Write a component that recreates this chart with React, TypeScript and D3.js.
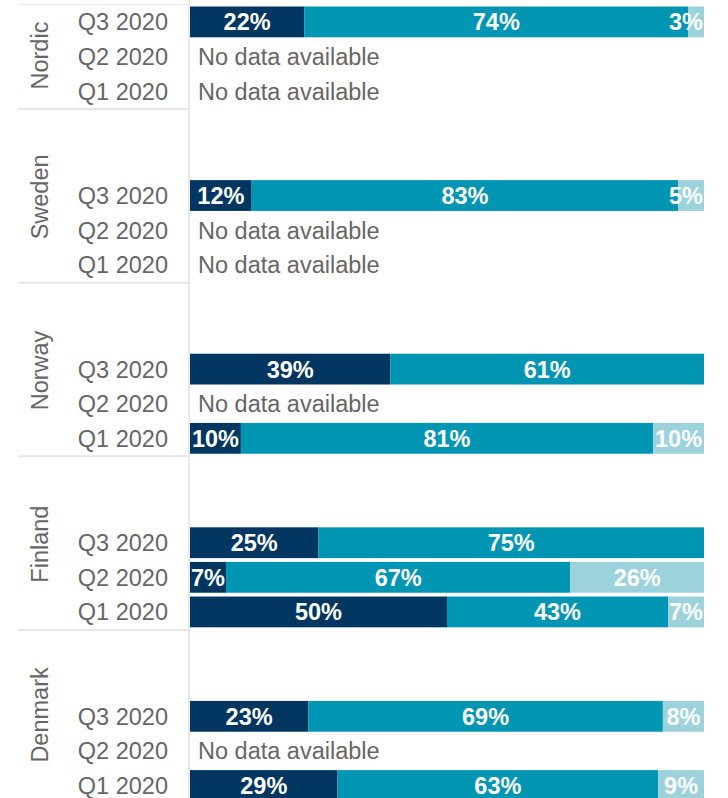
import React from 'react';
import * as d3 from 'd3';

// regions and quarters as shown (top to bottom)
const countries = ['Nordic', 'Sweden', 'Norway', 'Finland', 'Denmark'];
const quarters = ['Q3 2020', 'Q2 2020', 'Q1 2020'];

// share per segment, null = no data available
const darkShare: (number | null)[][] = [
  [22, null, null],
  [12, null, null],
  [39, null, 10],
  [25, 7, 50],
  [23, null, 29],
];
const midShare: (number | null)[][] = [
  [74, null, null],
  [83, null, null],
  [61, null, 81],
  [75, 67, 43],
  [69, null, 63],
];
const lightShare: (number | null)[][] = [
  [3, null, null],
  [5, null, null],
  [0, null, 10],
  [0, 26, 7],
  [8, null, 9],
];

const keys = ['dark', 'mid', 'light'];
const colors: Record<string, string> = { dark: '#00365f', mid: '#0095b3', light: '#9bd2dc' };

const W = 728;
const H = 798;
const FONT = '"Liberation Sans", Arial, sans-serif';
const FS = 23.5;

type Row = { country: string; quarter: string; dark: number; mid: number; light: number; empty: boolean };

const App: React.FC = () => {
  const rows: Row[] = [];
  countries.forEach((c, i) => {
    quarters.forEach((q, j) => {
      const d = darkShare[i][j];
      rows.push({
        country: c,
        quarter: q,
        dark: d ?? 0,
        mid: midShare[i][j] ?? 0,
        light: lightShare[i][j] ?? 0,
        empty: d === null,
      });
    });
  });

  // each group holds five slots, the quarters sit in the lower three
  const group = d3.scaleBand<string>().domain(countries).range([-64.5, 803.5]);
  const gh = group.bandwidth();
  const slot = d3
    .scaleBand<string>()
    .domain(quarters)
    .range([(gh * 2) / 5, gh])
    .paddingInner(0.11)
    .paddingOuter(0.06);

  const x = d3.scaleLinear().domain([0, 1]).range([190, 704]);

  const filled = rows.filter((r) => !r.empty);
  const stacked = d3
    .stack<Row>()
    .keys(keys)
    .offset(d3.stackOffsetExpand)(filled);

  const rowY = (r: Row) => (group(r.country) as number) + (slot(r.quarter) as number) - 0.5;
  const bh = slot.bandwidth();

  const labelWidth = (s: string) => (s.length - 1) * 0.556 * FS + 0.889 * FS;

  return (
    <svg width={W} height={H} style={{ position: 'absolute', left: 0, top: 0 }} fontFamily={FONT}>
      <rect width={W} height={H} fill="#fff" />
      {/* header frame lines */}
      <line x1={18} x2={189} y1={4.5} y2={4.5} stroke="#eeeeee" strokeWidth={1.5} />
      {countries.slice(1).map((c) => (
        <line
          key={c}
          x1={18}
          x2={189}
          y1={(group(c) as number)}
          y2={(group(c) as number)}
          stroke="#e6e6e6"
          strokeWidth={2}
        />
      ))}
      <line x1={189} x2={189} y1={0} y2={H} stroke="#e9e9e9" strokeWidth={2} />

      {countries.map((c) => {
        const top = group(c) as number;
        const cy = (Math.max(top, 0) + Math.min(top + gh, H)) / 2 + 1;
        return (
          <text
            key={c}
            transform={`translate(48,${cy}) rotate(-90)`}
            textAnchor="middle"
            fontSize={FS}
            fill="#666"
          >
            {c}
          </text>
        );
      })}

      {rows.map((r) => (
        <g key={r.country + r.quarter}>
          <text x={168} y={rowY(r) + bh / 2} dy="0.36em" textAnchor="end" fontSize={FS} fill="#666">
            {r.quarter}
          </text>
          {r.empty && (
            <text x={198} y={rowY(r) + bh / 2} dy="0.36em" fontSize={FS} fill="#666">
              No data available
            </text>
          )}
        </g>
      ))}

      {stacked.map((series) => (
        <g key={series.key} fill={colors[series.key]}>
          {series.map((seg, i) => {
            const r = filled[i];
            const value = r[series.key as keyof Row] as number;
            if (!value) return null;
            const x0 = x(seg[0]);
            const x1 = x(seg[1]);
            const label = `${value}%`;
            const w = labelWidth(label);
            let cx = (x0 + x1) / 2;
            cx = Math.min(cx, x.range()[1] - 1 - w / 2);
            cx = Math.max(cx, x.range()[0] + 1 + w / 2);
            return (
              <g key={r.country + r.quarter}>
                <rect x={x0} y={rowY(r)} width={x1 - x0} height={bh} />
                <text
                  x={cx}
                  y={rowY(r) + bh / 2}
                  dy="0.36em"
                  textAnchor="middle"
                  fontSize={FS}
                  fontWeight="bold"
                  fill="#fff"
                >
                  {label}
                </text>
              </g>
            );
          })}
        </g>
      ))}
    </svg>
  );
};

export default App;
